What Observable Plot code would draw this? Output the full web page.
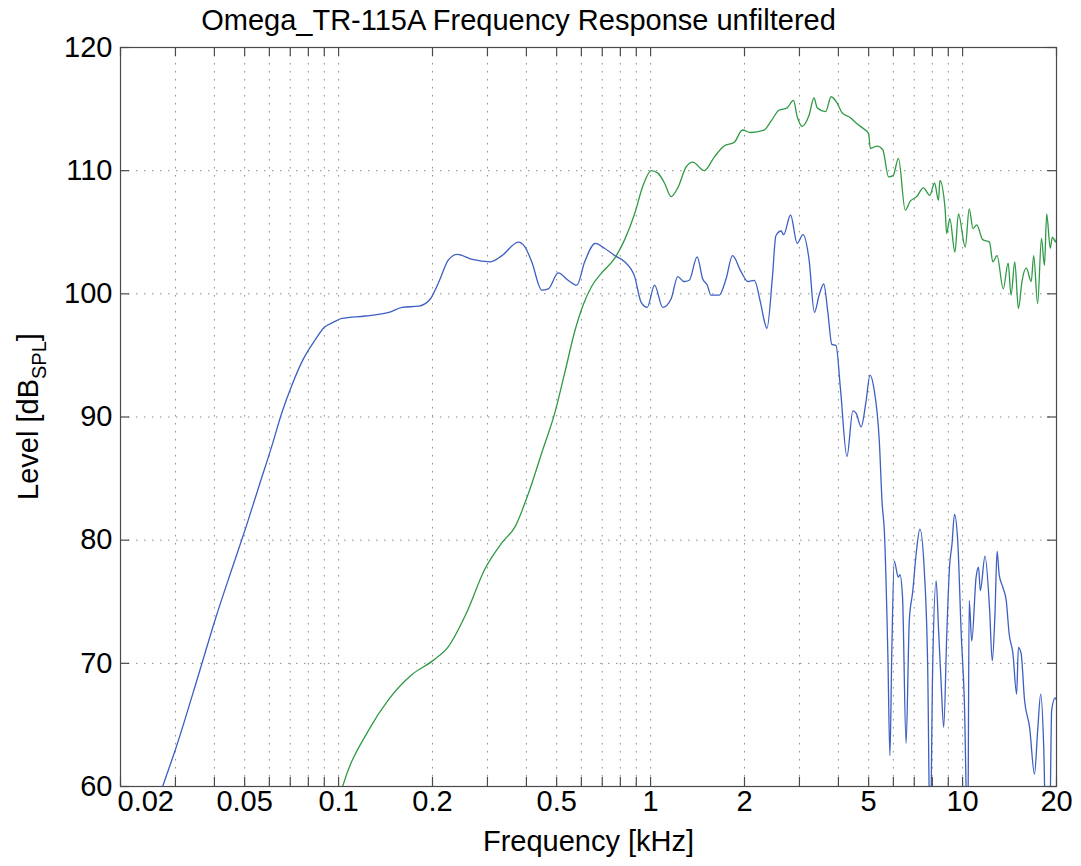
<!DOCTYPE html>
<html><head><meta charset="utf-8">
<script src="https://cdn.jsdelivr.net/npm/d3@7"></script>
<script src="https://cdn.jsdelivr.net/npm/@observablehq/plot@0.6"></script>
<style>
body{margin:0;background:#fff;font-family:"Liberation Sans",Arial,Helvetica,sans-serif;}
#title{height:40px;position:relative;width:1081px;}
#title span{position:absolute;left:0;width:1037px;text-align:center;top:4px;font-size:29px;white-space:nowrap;color:#000;}
</style></head><body>
<div id="title"><span>Omega_TR-115A Frequency Response unfiltered</span></div>
<div id="chart"></div>
<script>
// ---- data (frequency in kHz, level in dB SPL) ----
const blueFreq = [0.025,0.0273,0.030,0.0357,0.0404,0.0457,0.0504,0.0556,0.0612,0.0659,0.0709,0.0767,0.0843,0.0902,0.0964,0.1025,0.1217,0.145,0.160,0.181,0.197,0.209,0.2255,0.240,0.268,0.307,0.334,0.377,0.396,0.416,0.448,0.470,0.506,0.544,0.580,0.615,0.665,0.711,0.768,0.826,0.889,0.933,0.975,1.03,1.094,1.164,1.222,1.28,1.33,1.41,1.47,1.52,1.56,1.66,1.745,1.83,1.95,2.05,2.15,2.25,2.32,2.36,2.46,2.52,2.62,2.67,2.81,2.95,3.08,3.22,3.35,3.47,3.59,3.70,3.81,3.93,4.06,4.26,4.45,4.56,4.73,4.90,5.05,5.2,5.41,5.52,5.62,5.76,5.85,5.93,6.04,6.22,6.30,6.42,6.59,6.75,6.92,7.10,7.30,7.54,7.73,7.87,8.02,8.23,8.37,8.54,8.70,8.90,9.08,9.25,9.42,9.65,9.90,10.13,10.39,10.5,10.7,11.05,11.25,11.4,11.8,12.2,12.45,12.7,12.9,13.1,13.45,13.8,14.1,14.5,14.9,15.1,15.4,15.8,16.4,17.0,17.4,17.8,18.2,18.5,19.0,19.3,19.8,20];
const blueLevel = [57,60,63.0,69.2,73.7,77.8,81.0,84.4,87.7,90.4,92.6,94.6,96.3,97.3,97.7,98.0,98.2,98.5,98.9,99.0,99.6,100.9,102.8,103.2,102.8,102.6,103.1,104.2,103.8,102.6,100.3,100.4,101.7,101.1,100.7,102.6,104.1,103.7,103.1,102.6,101.4,99.3,98.9,100.7,98.9,99.6,101.4,101.0,101.1,103.0,101.2,100.7,99.9,99.9,101.2,103.1,101.8,101.0,101.1,99.3,97.7,97.2,101.5,104.7,105.1,104.8,106.4,104.1,104.8,102.8,98.5,99.9,100.8,98.5,95.9,95.8,92.3,86.8,90.5,90.3,89.2,91.2,93.4,92.3,88.0,83.1,80.5,70.8,62.5,70.8,78.3,77.0,77.2,75.4,63.5,73.5,75.8,78.9,80.9,77.5,69.7,55,69.7,76.7,72.9,68.3,64.8,72.4,77.8,79.7,82.1,79.9,72.4,67.0,55,75.1,71.8,77.0,77.8,75.9,78.7,74.5,70.2,74.0,79.1,77.2,76.2,75.1,72.4,70.8,67.5,71.3,70.8,67.0,64.8,61.0,64.5,67.5,63.2,56,56,66.2,67.2,67.0];
const greenFreq = [0.098,0.103,0.125,0.145,0.172,0.200,0.2255,0.255,0.295,0.334,0.368,0.406,0.448,0.494,0.532,0.572,0.608,0.647,0.697,0.768,0.826,0.889,0.946,1.005,1.055,1.108,1.164,1.222,1.30,1.365,1.486,1.60,1.72,1.854,1.97,2.09,2.31,2.43,2.58,2.74,2.87,2.95,3.06,3.22,3.34,3.42,3.64,3.79,3.96,4.11,4.37,4.59,4.82,5.00,5.06,5.32,5.55,5.79,5.99,6.23,6.55,6.79,7.13,7.49,7.85,8.13,8.37,8.46,8.79,8.89,9.10,9.45,9.70,10.2,10.5,10.8,11.1,11.6,12.2,12.5,12.9,13.5,14.0,14.3,14.7,15.1,15.5,16.0,16.6,16.9,17.4,17.9,18.3,18.6,19.1,19.4,19.9,20];
const greenLevel = [58,60,64.6,67.1,69.1,70.2,71.4,73.9,77.7,79.8,81.1,83.8,87.1,90.4,93.7,97.0,99.1,100.6,101.7,102.9,104.4,106.5,108.8,110.0,109.8,109.0,107.9,108.6,110.3,110.7,110.0,111.1,112.0,112.3,113.3,113.1,113.3,114.0,114.9,115.1,115.7,114.4,113.6,114.5,115.9,115.1,114.8,116.0,115.5,114.7,114.3,113.8,113.4,113.0,111.8,112.0,111.7,109.5,109.6,111.0,106.8,107.5,107.9,108.6,108.0,109.0,107.6,109.2,106.9,104.9,106.1,103.4,106.5,103.8,106.9,105.3,105.6,104.4,104.2,102.6,103.1,100.4,102.5,99.9,102.6,98.8,101.0,102.1,101.0,103.1,99.2,104.5,102.3,106.5,103.7,104.6,104.2,104.5];
const xTicks = [0.02,0.05,0.1,0.2,0.5,1,2,5,10,20];
const xTickLabels = ["0.02","0.05","0.1","0.2","0.5","1","2","5","10","20"];
const xMinorTicks = [0.03,0.04,0.06,0.07,0.08,0.09,0.3,0.4,0.6,0.7,0.8,0.9,3,4,6,7,8,9];
const yTicks = [60,70,80,90,100,110,120];
const titleText = "Omega_TR-115A Frequency Response unfiltered";
const xLabel = "Frequency [kHz]";

// ---- build ----
const blue = blueFreq.map((f,i)=>({f, v: blueLevel[i]}));
const green = greenFreq.map((f,i)=>({f, v: greenLevel[i]}));
const allX = xTicks.concat(xMinorTicks).sort((a,b)=>a-b);
const gridX = allX.filter(d=>d>xTicks[0] && d<xTicks[xTicks.length-1]);
const gridY = yTicks.slice(1,-1);

const W=1081, H=826, mL=120, mR=25, mT=7, mB=80;
const pW=W-mL-mR, pH=H-mT-mB, tk=9;
const font = "Liberation Sans, Arial, Helvetica, sans-serif";
const fs = 29;
const axisColor = "#4a4a4a";
const gridStyle = {stroke:"#8c8c8c", strokeWidth:1, strokeDasharray:"1.5,6.5"};

const chart = Plot.plot({
  width: W, height: H,
  marginLeft: mL, marginRight: mR, marginTop: mT, marginBottom: mB,
  style: {fontFamily: font, background: "#fff", color: "#000", overflow: "visible"},
  x: {type: "log", domain: [0.02, 20], axis: null},
  y: {domain: [60, 120], axis: null},
  marks: [
    Plot.ruleX(gridX, {x: d=>d, ...gridStyle}),
    Plot.ruleY(gridY, {y: d=>d, ...gridStyle}),
    Plot.line(blue, {x:"f", y:"v", stroke:"#3d5fc2", strokeWidth:1.3, curve:"monotone-x", clip:true}),
    Plot.line(green, {x:"f", y:"v", stroke:"#2f9a45", strokeWidth:1.3, curve:"monotone-x", clip:true}),
    Plot.frame({stroke: axisColor, strokeWidth: 1.2}),
    Plot.tickX(allX, {x: d=>d, insetTop: pH-tk, stroke: axisColor, strokeWidth:1.2}),
    Plot.tickX(allX, {x: d=>d, insetBottom: pH-tk, stroke: axisColor, strokeWidth:1.2}),
    Plot.tickY(yTicks, {y: d=>d, insetRight: pW-tk, stroke: axisColor, strokeWidth:1.2}),
    Plot.tickY(yTicks, {y: d=>d, insetLeft: pW-tk, stroke: axisColor, strokeWidth:1.2}),
    Plot.text(xTicks.slice(0,1), {x: d=>d, frameAnchor:"bottom", dy: 24, textAnchor:"start", dx:-3,
      text: d=>xTickLabels[xTicks.indexOf(d)], fontSize: fs, fill:"#000"}),
    Plot.text(xTicks.slice(1), {x: d=>d, frameAnchor:"bottom", dy: 24,
      text: d=>xTickLabels[xTicks.indexOf(d)], fontSize: fs, fill:"#000"}),
    Plot.text(yTicks, {y: d=>d, frameAnchor:"left", textAnchor:"end", dx: -8,
      text: d=>String(d), fontSize: fs, fill:"#000"}),
    Plot.text([xLabel], {frameAnchor:"bottom", dy: 64, text: d=>d, fontSize: fs, fill:"#000"})
  ]
});
document.getElementById("chart").appendChild(chart);

// y-axis label with subscript
const svg = d3.select(chart);
const yl = svg.append("text")
  .attr("transform", `translate(38,${mT + pH/2}) rotate(-90)`)
  .attr("text-anchor","middle")
  .attr("font-family", font)
  .attr("font-size", fs)
  .attr("fill","#000");
yl.append("tspan").text("Level [dB");
yl.append("tspan").attr("dy", 8).attr("font-size", 20).text("SPL");
yl.append("tspan").attr("dy", -8).text("]");
</script></body></html>
